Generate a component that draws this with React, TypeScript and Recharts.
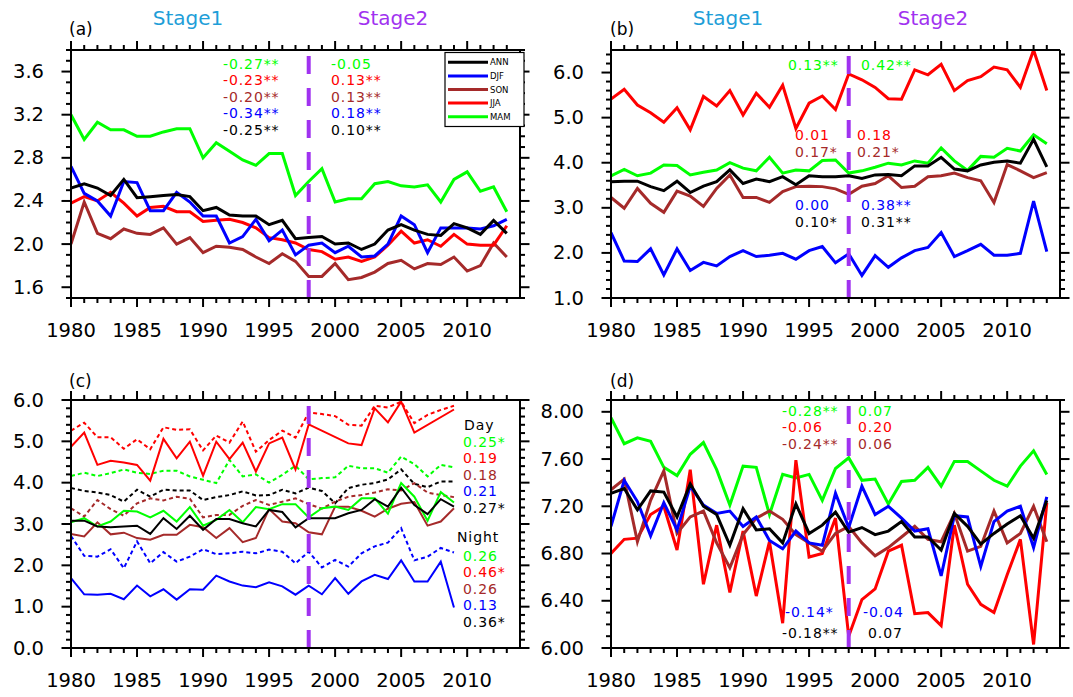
import { LineChart, Line, XAxis, YAxis, ReferenceLine } from "recharts";

// --- data ---------------------------------------------------------------
const years = Array.from({ length: 34 }, (_, i) => 1980 + i);
const stageLabels = ["Stage1", "Stage2"];
const panelLetters = ["(a)", "(b)", "(c)", "(d)"];
const legendNames = ["ANN", "DJF", "SON", "JJA", "MAM"];
const breakYear = 1998;

// (a)
const aANN = [2.52, 2.56, 2.52, 2.45, 2.6, 2.43, 2.44, 2.45, 2.46, 2.44, 2.31, 2.34, 2.27, 2.26, 2.26, 2.18, 2.22, 2.05, 2.06, 2.07, 2.0, 2.01, 1.95, 2.0, 2.13, 2.18, 2.13, 2.09, 2.08, 2.19, 2.15, 2.09, 2.22, 2.1];
const aDJF = [2.72, 2.47, 2.4, 2.26, 2.58, 2.57, 2.31, 2.31, 2.48, 2.39, 2.26, 2.26, 2.01, 2.07, 2.23, 2.03, 2.13, 1.9, 1.99, 2.01, 1.92, 1.98, 1.88, 1.89, 2.0, 2.26, 2.18, 1.92, 2.15, 2.15, 2.15, 2.14, 2.17, 2.23];
const aSON = [2.0, 2.39, 2.1, 2.05, 2.14, 2.1, 2.09, 2.15, 2.0, 2.06, 1.92, 1.98, 1.97, 1.95, 1.88, 1.82, 1.91, 1.84, 1.7, 1.7, 1.82, 1.67, 1.69, 1.74, 1.82, 1.85, 1.77, 1.82, 1.81, 1.88, 1.75, 1.8, 2.01, 1.88];
const aJJA = [2.38, 2.44, 2.4, 2.48, 2.38, 2.26, 2.34, 2.35, 2.3, 2.3, 2.21, 2.22, 2.23, 2.2, 2.15, 2.06, 2.04, 2.01, 1.95, 1.93, 1.86, 1.88, 1.84, 1.88, 1.99, 2.12, 2.01, 2.04, 1.98, 2.09, 2.0, 1.99, 1.99, 2.17];
const aMAM = [3.2, 2.97, 3.13, 3.06, 3.06, 3.0, 3.0, 3.04, 3.07, 3.07, 2.8, 2.94, 2.86, 2.78, 2.73, 2.84, 2.84, 2.45, 2.58, 2.7, 2.39, 2.42, 2.42, 2.56, 2.58, 2.54, 2.53, 2.55, 2.39, 2.6, 2.67, 2.49, 2.53, 2.3];

// (b)
const bANN = [3.58, 3.59, 3.59, 3.47, 3.38, 3.59, 3.34, 3.48, 3.58, 3.84, 3.54, 3.64, 3.58, 3.69, 3.51, 3.71, 3.69, 3.69, 3.71, 3.65, 3.73, 3.74, 3.71, 3.93, 3.93, 4.12, 3.86, 3.82, 3.95, 4.01, 4.04, 3.99, 4.52, 3.91];
const bDJF = [2.45, 1.82, 1.81, 2.09, 1.51, 2.09, 1.61, 1.79, 1.71, 1.92, 2.05, 1.92, 1.95, 1.99, 1.86, 2.05, 2.14, 1.78, 1.98, 1.5, 1.94, 1.68, 1.89, 2.05, 2.12, 2.45, 1.92, 2.05, 2.19, 1.95, 1.95, 1.99, 3.15, 2.03];
const bSON = [3.23, 2.99, 3.43, 3.1, 2.9, 3.37, 3.26, 3.03, 3.43, 3.73, 3.23, 3.23, 3.12, 3.36, 3.47, 3.48, 3.47, 3.42, 3.3, 3.48, 3.54, 3.71, 3.45, 3.48, 3.69, 3.71, 3.77, 3.67, 3.6, 3.12, 3.96, 3.82, 3.67, 3.78];
const bJJA = [5.41, 5.63, 5.28, 5.11, 4.9, 5.22, 4.73, 5.47, 5.26, 5.6, 5.06, 5.54, 5.23, 5.72, 4.76, 5.32, 5.48, 5.18, 5.97, 5.84, 5.67, 5.42, 5.41, 6.06, 5.95, 6.18, 5.6, 5.82, 5.91, 6.12, 6.06, 5.67, 6.5, 5.6];
const bMAM = [3.71, 3.85, 3.71, 3.77, 3.95, 3.94, 3.73, 3.79, 3.84, 4.0, 3.88, 3.82, 4.12, 3.77, 3.84, 3.82, 4.05, 4.06, 3.77, 3.82, 3.9, 3.99, 3.95, 4.04, 3.99, 4.33, 4.04, 3.83, 4.14, 4.12, 4.32, 4.26, 4.62, 4.42];

// (c) 1980-2009, solid and dotted pairs
const cRed = [4.87, 5.21, 4.43, 4.53, 4.49, 4.43, 4.05, 5.06, 4.59, 4.99, 4.17, 4.99, 4.57, 4.97, 4.27, 4.95, 5.09, 4.32, 5.41, null, null, 4.95, 4.91, 5.8, 5.46, 5.96, 5.21, null, null, 5.77];
const cRedDot = [5.26, 5.45, 5.1, 5.1, 4.82, 5.05, 4.81, 5.34, 5.28, 5.29, 4.78, 5.14, 4.97, 5.48, 4.75, 5.03, 5.26, 5.09, 5.7, 5.66, 5.61, 5.4, 5.38, 5.86, 5.82, 5.96, 5.44, 5.64, 5.76, 5.86];
const cGreen = [3.04, 3.14, 2.94, 3.06, 3.32, 3.3, 3.16, 3.32, 3.06, 3.41, 2.96, 3.1, 3.34, 3.04, 3.41, 3.36, 3.48, 3.48, 3.16, 3.38, 3.42, 3.34, 3.62, 3.62, 3.25, 3.99, 3.66, 3.08, 3.77, 3.52];
const cGreenDot = [4.16, 4.24, 4.16, 4.23, 4.32, 4.24, 4.21, 4.29, 4.29, 4.15, 4.07, 3.99, 4.55, 4.15, 4.2, 4.0, 4.19, 4.41, 4.08, 4.11, 4.13, 4.41, 4.35, 4.35, 4.24, 4.63, 4.45, 4.15, 4.43, 4.37];
const cBlack = [3.08, 3.08, 2.94, 2.92, 2.94, 2.96, 2.76, 3.14, 2.88, 3.2, 2.86, 3.12, 3.12, 3.02, 2.94, 3.34, 3.29, 2.92, 3.14, 3.14, 3.14, 3.26, 3.34, 3.6, 3.42, 3.88, 3.46, 3.24, 3.6, 3.42];
const cBlackDot = [3.87, 3.8, 3.76, 3.7, 3.54, 3.83, 3.66, 3.83, 3.81, 3.81, 3.58, 3.65, 3.7, 3.79, 3.69, 3.7, 3.83, 3.74, 3.88, 3.8, 3.5, 3.87, 3.95, 3.99, 4.08, 4.32, 3.97, 3.89, 4.03, 4.03];
const cBrown = [2.76, 2.7, 3.04, 2.75, 2.79, 2.66, 2.62, 2.74, 2.74, 2.98, 2.92, 2.66, 2.9, 2.56, 2.66, 3.36, 3.06, 3.02, 2.8, 2.75, 3.42, 3.42, 3.32, 3.18, 3.37, 3.49, 3.53, 2.96, 3.06, 3.38];
const cBrownDot = [3.38, 3.18, 3.58, 3.36, 3.2, 3.5, 3.62, 3.57, 3.66, 3.61, 3.16, 3.22, 3.22, 3.44, 3.58, 3.46, 3.54, 3.62, 3.48, 3.37, 3.54, 3.66, 3.7, 3.76, 3.84, 3.81, 3.99, 3.76, 3.7, 3.65];
const cBlue = [1.69, 1.3, 1.29, 1.31, 1.18, 1.51, 1.25, 1.42, 1.17, 1.42, 1.41, 1.75, 1.61, 1.51, 1.47, 1.59, 1.49, 1.29, 1.51, 1.3, 1.69, 1.31, 1.61, 1.77, 1.67, 2.12, 1.61, 1.61, 2.09, 0.98];
const cBlueDot = [2.71, 2.23, 2.21, 2.39, 1.93, 2.58, 2.05, 2.32, 2.09, 2.21, 2.39, 2.27, 2.29, 2.33, 2.29, 2.38, 2.33, 2.05, 2.33, 1.95, 2.13, 1.97, 2.29, 2.46, 2.55, 2.9, 2.12, 2.21, 2.42, 2.31];

// (d)
const dANN = [7.31, 7.35, 7.17, 7.33, 7.32, 7.11, 7.39, 7.2, 7.13, 6.87, 7.18, 7.0, 7.01, 6.89, 7.22, 6.97, 7.04, 7.15, 6.98, 7.02, 6.96, 6.99, 7.07, 6.94, 6.94, 6.83, 7.14, 7.03, 6.88, 6.97, 7.05, 7.12, 6.93, 7.25];
const dDJF = [7.03, 7.42, 7.24, 6.95, 7.23, 7.0, 7.37, 7.21, 7.14, 7.16, 7.03, 7.11, 6.91, 6.84, 6.99, 6.89, 6.87, 7.31, 7.02, 7.37, 7.13, 7.2, 7.1, 6.99, 7.01, 6.61, 7.12, 7.11, 6.69, 7.07, 7.16, 7.2, 6.85, 7.28];
const dSON = [7.34, 7.43, 6.9, 7.25, 7.5, 6.97, 7.11, 7.16, 6.89, 6.68, 6.96, 7.1, 7.16, 7.09, 6.96, 6.89, 6.82, 6.97, 7.03, 6.89, 6.78, 6.85, 6.94, 7.03, 6.92, 6.9, 7.14, 6.82, 6.86, 7.16, 6.89, 6.97, 7.2, 6.9];
const dJJA = [6.8, 6.92, 6.93, 7.13, 7.2, 6.83, 7.51, 6.54, 7.04, 6.47, 6.99, 6.44, 6.9, 6.21, 7.59, 6.77, 6.8, 7.1, 6.1, 6.41, 6.5, 6.82, 6.87, 6.29, 6.3, 6.19, 7.04, 6.54, 6.37, 6.3, 6.62, 6.92, 6.03, 7.23];
const dMAM = [7.95, 7.73, 7.78, 7.75, 7.53, 7.46, 7.64, 7.74, 7.51, 7.21, 7.54, 7.53, 7.13, 7.47, 7.44, 7.47, 7.25, 7.52, 7.61, 7.42, 7.43, 7.22, 7.41, 7.42, 7.53, 7.37, 7.58, 7.58, 7.5, 7.42, 7.37, 7.54, 7.67, 7.47];

// trend annotations
const aLeft = ["-0.27**", "-0.23**", "-0.20**", "-0.34**", "-0.25**"];
const aRight = ["-0.05", "0.13**", "0.13**", "0.18**", "0.10**"];
const cDay = ["0.25*", "0.19", "0.18", "0.21", "0.27*"];
const cNight = ["0.26", "0.46*", "0.26", "0.13", "0.36*"];

// --- styling ------------------------------------------------------------
const W = 1073;
const H = 697;
const AX = 10; // room reserved for each axis inside the margin
const FONT = "'DejaVu Sans', sans-serif";
const BLACK = "#000000";
const BLUE = "#0000ff";
const BROWN = "#a52a2a";
const RED = "#ff0000";
const GREEN = "#00ff00";
const PURPLE = "#a032f0";
const CYAN = "#1e9ed8";
const legendColors = [BLACK, BLUE, BROWN, RED, GREEN];
const rowColors = [GREEN, RED, BROWN, BLUE, BLACK];
const AXIS = { stroke: "#000", strokeWidth: 2 };

type Series = { key: string; data: (number | null)[]; color: string; width: number; dash?: string };

function makeRows(series: Series[]) {
  const n = Math.max(...series.map((s) => s.data.length));
  return years.slice(0, n).map((year, i) => {
    const row: Record<string, number | null> = { year };
    series.forEach((s) => (row[s.key] = s.data[i]));
    return row;
  });
}

// eslint-disable-next-line @typescript-eslint/no-explicit-any
function XTick(p: any) {
  const { x, y, payload, side } = p;
  const major = payload.value % 5 === 0;
  const dir = side === "bottom" ? 1 : -1;
  return (
    <g>
      <line x1={x} x2={x} y1={y} y2={y + dir * (major ? 9 : 5)} stroke="#000" strokeWidth={2} />
      {side === "bottom" && major && (
        <text x={x} y={y + 32} textAnchor="middle" dominantBaseline="central" fontFamily={FONT} fontSize={19.5} fill="#000">
          {payload.value}
        </text>
      )}
    </g>
  );
}

// eslint-disable-next-line @typescript-eslint/no-explicit-any
function YTick(p: any) {
  const { x, y, payload, side, majors, dec } = p;
  const major = majors.some((m: number) => Math.abs(m - payload.value) < 1e-6);
  const dir = side === "left" ? -1 : 1;
  return (
    <g>
      <line x1={x} x2={x + dir * (major ? 9.5 : 5)} y1={y} y2={y} stroke="#000" strokeWidth={2} />
      {side === "left" && major && (
        <text x={x - 27} y={y} textAnchor="end" dominantBaseline="central" fontFamily={FONT} fontSize={19.5} fill="#000">
          {payload.value.toFixed(dec)}
        </text>
      )}
    </g>
  );
}

function Panel({ plot, domain, majors, step, dec, series }: {
  plot: [number, number, number, number]; domain: [number, number]; majors: number[]; step: number; dec: number; series: Series[];
}) {
  const [left, top, right, bottom] = plot;
  const yTicks: number[] = [];
  for (let k = 0; domain[0] + k * step <= domain[1] + 1e-9; k++) yTicks.push(Math.round((domain[0] + k * step) * 100) / 100);
  const rows = makeRows(series);
  const common = { type: "number" as const, tickSize: 0, tickMargin: 0, tickLine: false, axisLine: AXIS, allowDataOverflow: true, interval: 0 as const };
  return (
    <div style={{ position: "absolute", left: 0, top: 0 }}>
      <LineChart width={W} height={H} data={rows}
        margin={{ top: top - AX, left: left - AX, right: W - right - AX, bottom: H - bottom - AX }}>
        <XAxis {...common} xAxisId="b" dataKey="year" domain={[1980, 2014]} ticks={years} orientation="bottom" height={AX}
          tick={(p) => <XTick {...p} side="bottom" />} />
        <XAxis {...common} xAxisId="t" dataKey="year" domain={[1980, 2014]} ticks={years} orientation="top" height={AX}
          tick={(p) => <XTick {...p} side="top" />} />
        <YAxis {...common} yAxisId="l" domain={domain} ticks={yTicks} orientation="left" width={AX}
          tick={(p) => <YTick {...p} side="left" majors={majors} dec={dec} />} />
        <YAxis {...common} yAxisId="r" domain={domain} ticks={yTicks} orientation="right" width={AX}
          tick={(p) => <YTick {...p} side="right" majors={majors} dec={dec} />} />
        {series.map((s) => (
          <Line key={s.key} xAxisId="b" yAxisId="l" type="linear" dataKey={s.key} stroke={s.color} strokeWidth={s.width}
            strokeDasharray={s.dash} dot={false} activeDot={false} connectNulls isAnimationActive={false} />
        ))}
        <ReferenceLine xAxisId="b" yAxisId="l" x={breakYear} stroke={PURPLE} strokeWidth={4} strokeDasharray="18 14" />
      </LineChart>
    </div>
  );
}

const seriesA: Series[] = [
  { key: "MAM", data: aMAM, color: GREEN, width: 3 },
  { key: "SON", data: aSON, color: BROWN, width: 3 },
  { key: "JJA", data: aJJA, color: RED, width: 3 },
  { key: "DJF", data: aDJF, color: BLUE, width: 3 },
  { key: "ANN", data: aANN, color: BLACK, width: 3 },
];
const seriesB: Series[] = [
  { key: "MAM", data: bMAM, color: GREEN, width: 3 },
  { key: "SON", data: bSON, color: BROWN, width: 3 },
  { key: "JJA", data: bJJA, color: RED, width: 3 },
  { key: "DJF", data: bDJF, color: BLUE, width: 3 },
  { key: "ANN", data: bANN, color: BLACK, width: 3 },
];
const seriesC: Series[] = [
  { key: "redDot", data: cRedDot, color: RED, width: 2, dash: "4 3" },
  { key: "greenDot", data: cGreenDot, color: GREEN, width: 2, dash: "4 3" },
  { key: "blackDot", data: cBlackDot, color: BLACK, width: 2, dash: "4 3" },
  { key: "brownDot", data: cBrownDot, color: BROWN, width: 2, dash: "4 3" },
  { key: "blueDot", data: cBlueDot, color: BLUE, width: 2, dash: "4 3" },
  { key: "red", data: cRed, color: RED, width: 2 },
  { key: "brown", data: cBrown, color: BROWN, width: 2 },
  { key: "green", data: cGreen, color: GREEN, width: 2 },
  { key: "black", data: cBlack, color: BLACK, width: 2 },
  { key: "blue", data: cBlue, color: BLUE, width: 2 },
];
const seriesD: Series[] = [
  { key: "MAM", data: dMAM, color: GREEN, width: 3 },
  { key: "JJA", data: dJJA, color: RED, width: 3 },
  { key: "SON", data: dSON, color: BROWN, width: 3 },
  { key: "DJF", data: dDJF, color: BLUE, width: 3 },
  { key: "ANN", data: dANN, color: BLACK, width: 3 },
];

// text groups: [x, y, line step, entries]
type Group = [number, number, number, [string, string][]];
const notes: Group[] = [
  [223, 63.5, 16.5, aLeft.map((t, i) => [t, rowColors[i]])],
  [331, 63.5, 16.5, aRight.map((t, i) => [t, rowColors[i]])],
  [788, 65, 0, [["0.13**", GREEN]]],
  [861, 65, 0, [["0.42**", GREEN]]],
  [795, 135, 16.7, [["0.01", RED], ["0.17*", BROWN]]],
  [857, 135, 16.7, [["0.18", RED], ["0.21*", BROWN]]],
  [795, 205, 16.7, [["0.00", BLUE], ["0.10*", BLACK]]],
  [861, 205, 16.7, [["0.38**", BLUE], ["0.31**", BLACK]]],
  [464, 425, 0, [["Day", BLACK]]],
  [463, 441.7, 16.5, cDay.map((t, i) => [t, rowColors[i]])],
  [457, 536.7, 0, [["Night", BLACK]]],
  [463, 556, 16.4, cNight.map((t, i) => [t, rowColors[i]])],
  [782, 410.7, 16.4, [["-0.28**", GREEN], ["-0.06", RED], ["-0.24**", BROWN]]],
  [858, 410.7, 16.4, [["0.07", GREEN], ["0.20", RED], ["0.06", BROWN]]],
  [785, 611.7, 0, [["-0.14*", BLUE]]],
  [782, 632.7, 0, [["-0.18**", BLACK]]],
  [863, 611.7, 0, [["-0.04", BLUE]]],
  [868, 632.7, 0, [["0.07", BLACK]]],
];

function Overlay() {
  return (
    <svg width={W} height={H} style={{ position: "absolute", left: 0, top: 0, pointerEvents: "none" }} fontFamily={FONT}>
      {[0, 540].map((dx) => (
        <g key={dx}>
          <text x={188 + dx} y={24.5} textAnchor="middle" fontSize={20} fill={CYAN}>{stageLabels[0]}</text>
          <text x={393 + dx} y={24.5} textAnchor="middle" fontSize={20} fill={PURPLE}>{stageLabels[1]}</text>
        </g>
      ))}
      {panelLetters.map((t, i) => (
        <text key={t} x={i % 2 ? 610 : 69} y={i < 2 ? 28.5 : 381} dominantBaseline="central" fontSize={17} fill="#000">{t}</text>
      ))}
      {notes.map(([x, y, dy, items], gi) =>
        items.map(([t, c], k) => (
          <text key={`${gi}-${k}`} x={x} y={y + k * dy} dominantBaseline="central" fontSize={14} letterSpacing={0.9} fill={c}>{t}</text>
        ))
      )}
      <rect x={445} y={52.5} width={79} height={74} fill="#fff" stroke="#000" strokeWidth={1.2} />
      {legendNames.map((n, i) => (
        <g key={n}>
          <line x1={448} x2={488} y1={62.3 + i * 13.6} y2={62.3 + i * 13.6} stroke={legendColors[i]} strokeWidth={3} />
          <text x={490} y={62.3 + i * 13.6} dominantBaseline="central" fontSize={8.5} fill="#000">{n}</text>
        </g>
      ))}
    </svg>
  );
}

export default function App() {
  return (
    <div style={{ position: "absolute", left: 0, top: 0, width: W, height: H, background: "#fff" }}>
      <Panel plot={[71, 50, 520, 298]} domain={[1.5, 3.8]} majors={[1.6, 2.0, 2.4, 2.8, 3.2, 3.6]} step={0.1} dec={1} series={seriesA} />
      <Panel plot={[611, 50, 1060, 298]} domain={[1.0, 6.5]} majors={[1, 2, 3, 4, 5, 6]} step={0.2} dec={1} series={seriesB} />
      <Panel plot={[71, 400, 520, 648]} domain={[0, 6]} majors={[0, 1, 2, 3, 4, 5, 6]} step={0.2} dec={1} series={seriesC} />
      <Panel plot={[611, 400, 1060, 648]} domain={[6.0, 8.1]} majors={[6.0, 6.4, 6.8, 7.2, 7.6, 8.0]} step={0.1} dec={2} series={seriesD} />
      <Overlay />
    </div>
  );
}
